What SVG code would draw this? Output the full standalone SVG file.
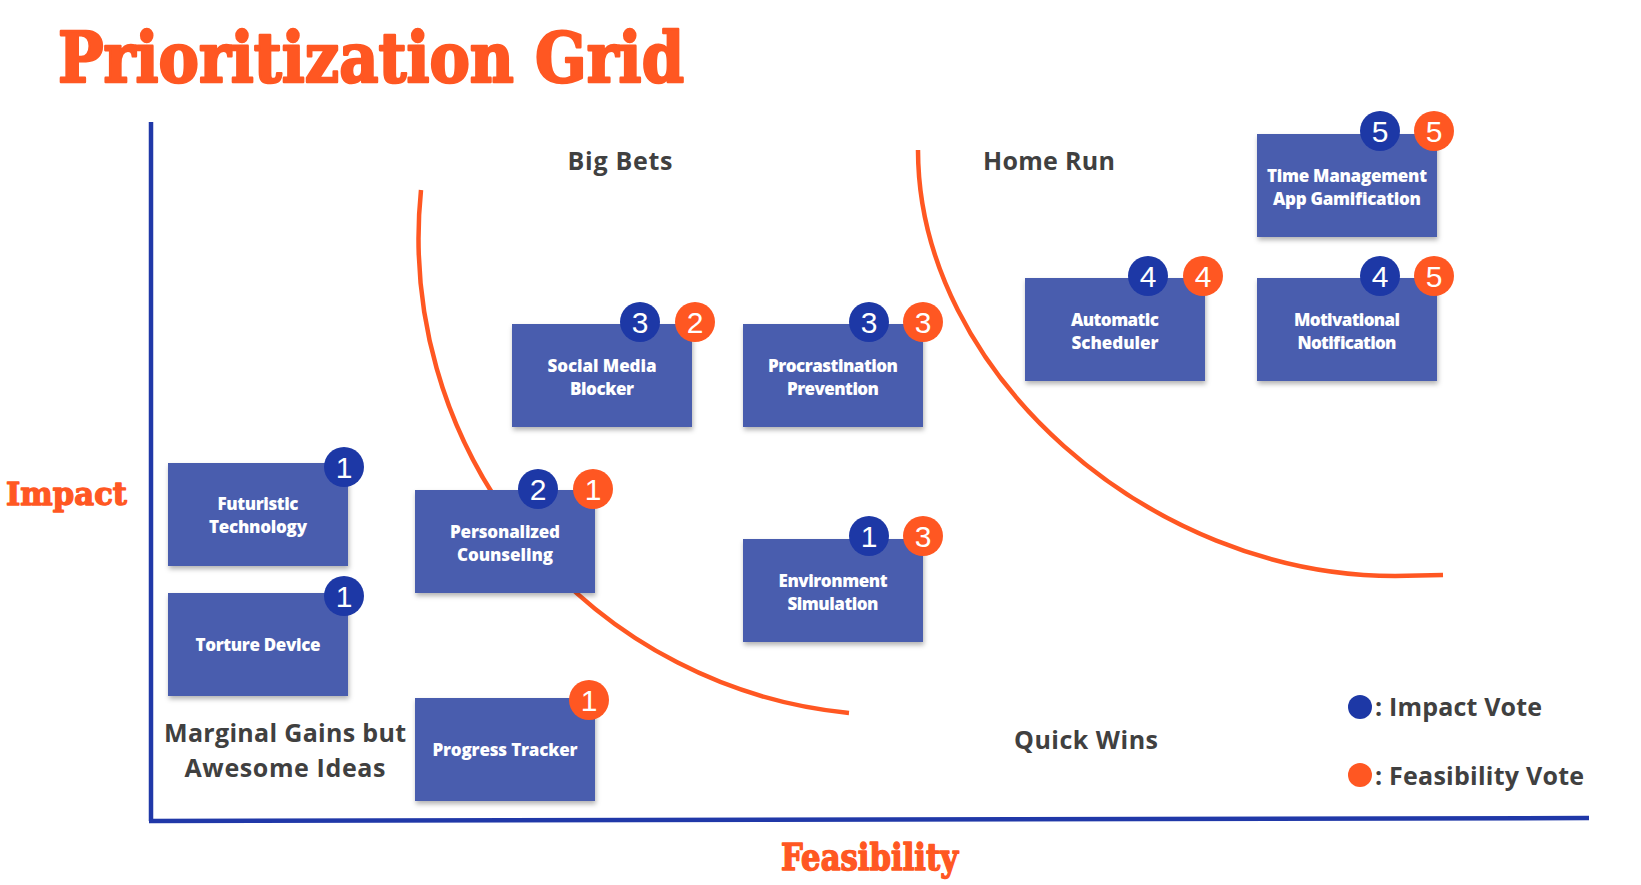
<svg xmlns="http://www.w3.org/2000/svg" width="1641" height="885" viewBox="0 0 1641 885">
<defs>
<filter id="sh" x="-10%" y="-10%" width="130%" height="140%">
<feDropShadow dx="1" dy="3" stdDeviation="2.5" flood-color="#000" flood-opacity="0.3"/>
</filter>
<style>
.box{fill:#485dae;filter:url(#sh)}
.bt{font-family:"Open Sans",Lato,"Liberation Sans",sans-serif;font-weight:800;font-size:17px;fill:#fff;text-anchor:middle}
.bb{fill:#1d38a6}
.ob{fill:#ff5722}
.num{font-family:"Liberation Sans",Arial,sans-serif;font-size:30px;fill:#fff;text-anchor:middle}
.lab{font-family:"Open Sans",Lato,"Liberation Sans",sans-serif;font-weight:700;font-size:25px;fill:#404040;text-anchor:middle}
.slab{font-family:"DejaVu Serif",serif;font-weight:bold;fill:#ff5722;stroke:#ff5722;stroke-linejoin:round}
.curve{fill:none;stroke:#ff5722;stroke-width:4.5}
.axis{stroke:#2038a8;stroke-width:4.5;fill:none}
</style>
</defs>
<rect width="1641" height="885" fill="#fff"/>
<text class="slab" x="58" y="82" font-size="70" stroke-width="2.6" textLength="626" lengthAdjust="spacingAndGlyphs">Prioritization Grid</text>
<text class="slab" x="6" y="505" font-size="31" stroke-width="1.3" textLength="121" lengthAdjust="spacingAndGlyphs">Impact</text>
<text class="slab" x="781" y="870" font-size="37" stroke-width="1.5" textLength="177" lengthAdjust="spacingAndGlyphs">Feasibility</text>
<g id="axes">
<path class="axis" d="M151 122 L151 821"/>
<path class="axis" d="M149 821 L1589 818"/>
</g>
<g id="connectors">
<path class="curve" d="M421 190 A477 477 0 0 0 849 713"/>
<path class="curve" d="M918 150 C918 371.5 1148 576 1395 576 L1443 575"/>
</g>
<text class="lab" x="620" y="170" textLength="105">Big Bets</text>
<text class="lab" x="1049" y="170" textLength="132">Home Run</text>
<text class="lab" x="1086" y="749" textLength="144">Quick Wins</text>
<text class="lab" x="285" y="742" textLength="242">Marginal Gains but</text>
<text class="lab" x="285" y="777" textLength="201">Awesome Ideas</text>
<g id="futuristic">
<rect class="box" x="168" y="463" width="180" height="103"/>
<text class="bt" x="258" y="510" textLength="81">Futuristic</text>
<text class="bt" x="258" y="533" textLength="98">Technology</text>
<circle class="bb" cx="344" cy="467" r="20"/><text class="num" x="344" y="478">1</text>
</g>
<g id="torture">
<rect class="box" x="168" y="593" width="180" height="103"/>
<text class="bt" x="258" y="651" textLength="125">Torture Device</text>
<circle class="bb" cx="344" cy="596" r="20"/><text class="num" x="344" y="607">1</text>
</g>
<g id="personalized">
<rect class="box" x="415" y="490" width="180" height="103"/>
<text class="bt" x="505" y="538" textLength="110">Personalized</text>
<text class="bt" x="505" y="561" textLength="96">Counseling</text>
<circle class="bb" cx="538" cy="489" r="20"/><text class="num" x="538" y="500">2</text>
<circle class="ob" cx="593" cy="489" r="20"/><text class="num" x="593" y="500">1</text>
</g>
<g id="progress">
<rect class="box" x="415" y="698" width="180" height="103"/>
<text class="bt" x="505" y="756" textLength="145">Progress Tracker</text>
<circle class="ob" cx="589" cy="700" r="20"/><text class="num" x="589" y="711">1</text>
</g>
<g id="social">
<rect class="box" x="512" y="324" width="180" height="103"/>
<text class="bt" x="602" y="372" textLength="109">Social Media</text>
<text class="bt" x="602" y="395" textLength="64">Blocker</text>
<circle class="bb" cx="640" cy="322" r="20"/><text class="num" x="640" y="333">3</text>
<circle class="ob" cx="695" cy="322" r="20"/><text class="num" x="695" y="333">2</text>
</g>
<g id="procrastination">
<rect class="box" x="743" y="324" width="180" height="103"/>
<text class="bt" x="833" y="372" textLength="130">Procrastination</text>
<text class="bt" x="833" y="395" textLength="92">Prevention</text>
<circle class="bb" cx="869" cy="322" r="20"/><text class="num" x="869" y="333">3</text>
<circle class="ob" cx="923" cy="322" r="20"/><text class="num" x="923" y="333">3</text>
</g>
<g id="environment">
<rect class="box" x="743" y="539" width="180" height="103"/>
<text class="bt" x="833" y="587" textLength="109">Environment</text>
<text class="bt" x="833" y="610" textLength="91">Simulation</text>
<circle class="bb" cx="869" cy="536" r="20"/><text class="num" x="869" y="547">1</text>
<circle class="ob" cx="923" cy="536" r="20"/><text class="num" x="923" y="547">3</text>
</g>
<g id="automatic">
<rect class="box" x="1025" y="278" width="180" height="103"/>
<text class="bt" x="1115" y="326" textLength="88">Automatic</text>
<text class="bt" x="1115" y="349" textLength="87">Scheduler</text>
<circle class="bb" cx="1148" cy="276" r="20"/><text class="num" x="1148" y="287">4</text>
<circle class="ob" cx="1203" cy="276" r="20"/><text class="num" x="1203" y="287">4</text>
</g>
<g id="timemgmt">
<rect class="box" x="1257" y="134" width="180" height="103"/>
<text class="bt" x="1347" y="182" textLength="160">Time Management</text>
<text class="bt" x="1347" y="205" textLength="148">App Gamification</text>
<circle class="bb" cx="1380" cy="131" r="20"/><text class="num" x="1380" y="142">5</text>
<circle class="ob" cx="1434" cy="131" r="20"/><text class="num" x="1434" y="142">5</text>
</g>
<g id="motivational">
<rect class="box" x="1257" y="278" width="180" height="103"/>
<text class="bt" x="1347" y="326" textLength="106">Motivational</text>
<text class="bt" x="1347" y="349" textLength="99">Notification</text>
<circle class="bb" cx="1380" cy="276" r="20"/><text class="num" x="1380" y="287">4</text>
<circle class="ob" cx="1434" cy="276" r="20"/><text class="num" x="1434" y="287">5</text>
</g>
<g id="legend">
<circle class="bb" cx="1360" cy="707" r="12"/>
<text class="lab" x="1375" y="716" style="text-anchor:start" textLength="167">: Impact Vote</text>
<circle class="ob" cx="1360" cy="775" r="12"/>
<text class="lab" x="1375" y="785" style="text-anchor:start" textLength="209">: Feasibility Vote</text>
</g>
</svg>
